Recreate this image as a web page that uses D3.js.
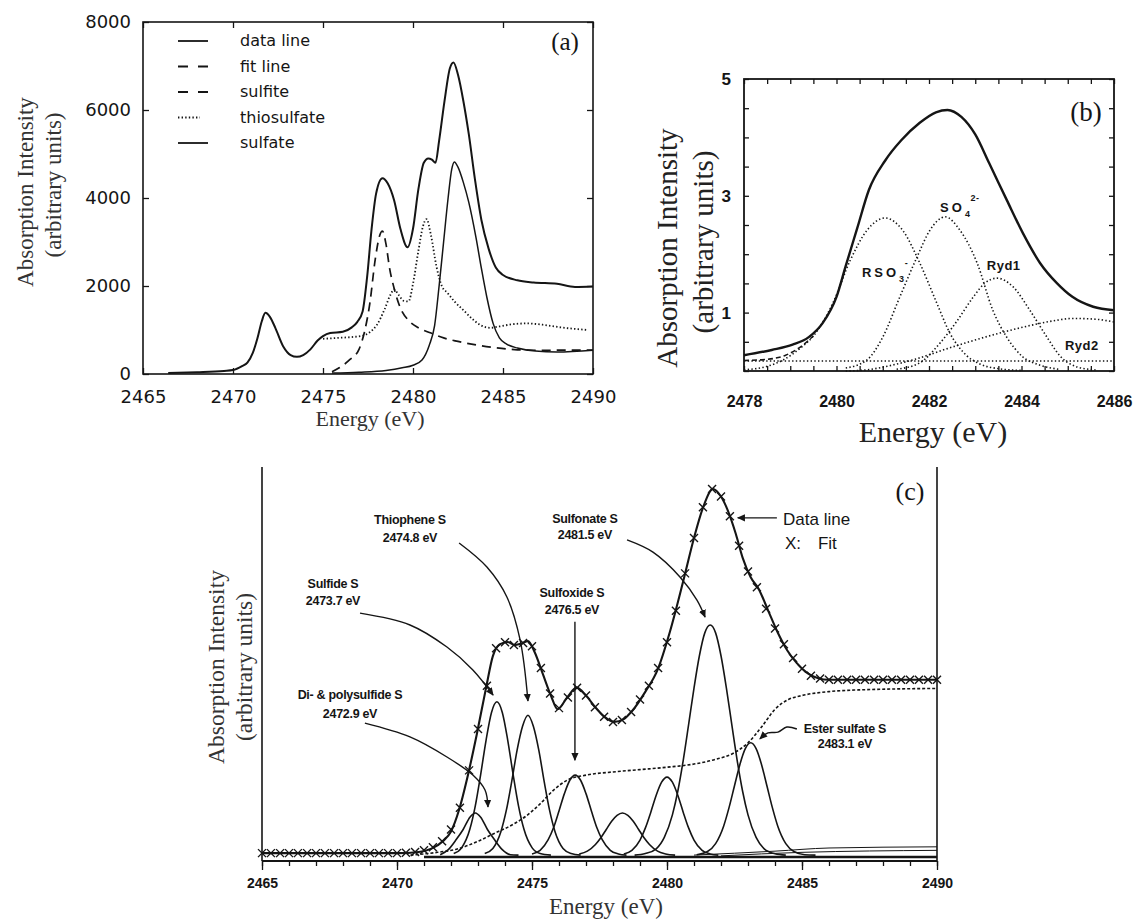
<!DOCTYPE html>
<html>
<head>
<meta charset="utf-8">
<script src="https://cdn.jsdelivr.net/npm/d3@7"></script>
<style>
  body { margin: 0; background: #fff; }
</style>
</head>
<body>
<div id="wrapper"></div>
<script>
// ---------- panel (a) data : energy (eV), intensity ----------
const aXTicks = [2465, 2470, 2475, 2480, 2485, 2490];
const aYTicks = [0, 2000, 4000, 6000, 8000];
const aLegend = ["data line", "fit line", "sulfite", "thiosulfate", "sulfate"];

const aDataLine = [[2466.4,20],[2468,40],[2469.5,70],[2470,90],[2470.5,180],[2470.8,260],[2471.1,480],[2471.35,800],[2471.6,1200],[2471.8,1390],[2472.05,1300],[2472.35,1050],[2472.8,620],[2473.2,430],[2473.55,390],[2473.9,430],[2474.3,560],[2474.7,760],[2475.0,860],[2475.4,930],[2476.1,960],[2476.6,1060],[2476.9,1180],[2477.2,1420],[2477.45,2200],[2477.7,3300],[2477.95,4100],[2478.3,4450],[2478.6,4330],[2478.95,3950],[2479.3,3300],[2479.7,2880],[2480.0,3300],[2480.3,4200],[2480.6,4800],[2480.85,4900],[2481.05,4870],[2481.25,4800],[2481.45,5300],[2481.75,6200],[2482.05,6950],[2482.25,7080],[2482.5,6800],[2482.8,6200],[2483.1,5450],[2483.45,4400],[2483.8,3500],[2484.2,2850],[2484.6,2420],[2485.0,2250],[2485.8,2130],[2486.7,2080],[2488,2050],[2489,1980],[2490,1990]];
const aSulfite = [[2475.5,50],[2475.9,140],[2476.5,330],[2477.0,560],[2477.3,950],[2477.6,1600],[2477.9,2600],[2478.15,3150],[2478.3,3250],[2478.5,2950],[2478.7,2400],[2478.95,1950],[2479.3,1500],[2479.8,1200],[2480.3,1050],[2481.0,930],[2481.7,820],[2482.5,740],[2483.5,660],[2484.5,600],[2485.8,550],[2487,540],[2490,545]];
const aThiosulfate = [[2475.0,800],[2475.8,820],[2476.6,840],[2477.2,870],[2477.6,950],[2478.0,1120],[2478.4,1450],[2478.75,1800],[2478.95,1920],[2479.2,1800],[2479.5,1660],[2479.75,1650],[2480.0,2050],[2480.3,2800],[2480.55,3350],[2480.75,3520],[2481.0,3150],[2481.3,2450],[2481.6,2000],[2481.9,1850],[2482.3,1650],[2482.8,1450],[2483.3,1250],[2483.8,1100],[2484.3,1050],[2484.8,1080],[2485.5,1130],[2486.3,1150],[2487.2,1120],[2488.2,1060],[2489.7,1000]];
const aSulfate = [[2475.5,20],[2477,40],[2478.5,80],[2479.4,140],[2480.0,200],[2480.5,320],[2480.9,650],[2481.2,1100],[2481.45,2000],[2481.7,3000],[2481.95,4000],[2482.15,4650],[2482.3,4820],[2482.5,4700],[2482.8,4350],[2483.1,3900],[2483.5,3100],[2483.8,2400],[2484.1,1750],[2484.45,1150],[2484.8,820],[2485.2,680],[2485.8,590],[2486.8,520],[2488,500],[2490,540]];

// ---------- panel (b) data ----------
const bXLabels = [2478, 2480, 2482, 2484, 2486];
const bYLabels = [1, 3, 5];
const bTotal = [[2478,0.27],[2478.6,0.36],[2479.05,0.45],[2479.4,0.58],[2479.7,0.82],[2480,1.27],[2480.2,1.8],[2480.45,2.45],[2480.7,3.1],[2481.05,3.6],[2481.4,3.95],[2481.8,4.25],[2482.15,4.43],[2482.4,4.47],[2482.7,4.35],[2483.0,4.05],[2483.3,3.56],[2483.68,2.93],[2484.03,2.36],[2484.4,1.85],[2484.77,1.5],[2485.1,1.27],[2485.55,1.1],[2486,1.04]];
const bRSO3 = [[2478,0.02],[2478.5,0.08],[2478.85,0.19],[2479.2,0.38],[2479.5,0.6],[2479.92,1.16],[2480.3,1.9],[2480.66,2.41],[2481.05,2.62],[2481.43,2.41],[2481.8,1.85],[2482.17,1.16],[2482.45,0.65],[2482.82,0.26],[2483.1,0.12],[2483.5,0.04],[2484,0.01]];
const bSO4 = [[2480.2,0.05],[2480.66,0.19],[2481.0,0.58],[2481.37,1.27],[2481.74,1.95],[2482.02,2.41],[2482.35,2.64],[2482.67,2.41],[2483.04,1.85],[2483.38,1.04],[2483.68,0.58],[2484.03,0.24],[2484.4,0.1],[2484.8,0.03]];
const bRyd1 = [[2481.3,0.03],[2481.8,0.14],[2482.24,0.48],[2482.6,0.85],[2482.96,1.27],[2483.2,1.5],[2483.47,1.59],[2483.82,1.44],[2484.18,1.04],[2484.55,0.58],[2484.83,0.26],[2485.2,0.07],[2485.6,0.02]];
const bRyd2 = [[2480.2,0.0],[2480.66,0.02],[2481.2,0.1],[2481.65,0.19],[2482.5,0.41],[2483.53,0.65],[2484.25,0.79],[2484.77,0.87],[2485.1,0.9],[2485.55,0.89],[2486,0.84]];
const bBaseline = [[2478,0.17],[2486,0.17]];
const bFitEdge = [[2478,0.18],[2478.5,0.2],[2478.9,0.27],[2479.2,0.4],[2479.5,0.6]];
const bLabels = [
  {parts: [["RSO", 0], ["3", 1], ["-", -1]], e: 2480.55, v: 1.61},
  {parts: [["SO", 0], ["4", 1], ["2-", -1]], e: 2482.24, v: 2.72},
  {parts: [["Ryd1", 0]], e: 2483.25, v: 1.73},
  {parts: [["Ryd2", 0]], e: 2484.94, v: 0.36},
];

// ---------- panel (c) data ----------
const cXTicks = [2465, 2470, 2475, 2480, 2485, 2490];
const cDataLine = [[2465,2],[2470,2],[2470.8,2.3],[2471.3,3.2],[2471.7,5],[2472.0,7.5],[2472.3,13],[2472.6,21],[2472.95,32],[2473.3,44],[2473.55,52],[2473.8,55],[2474.1,55.6],[2474.35,54.8],[2474.6,55.2],[2474.85,55.8],[2475.1,53],[2475.4,47.5],[2475.7,42],[2475.95,38.5],[2476.3,41.5],[2476.65,44],[2477.0,42],[2477.35,39],[2477.7,36.5],[2478.05,35.3],[2478.4,36],[2478.7,38],[2479.2,43],[2479.65,48.5],[2480.1,58],[2480.6,71],[2481.0,82],[2481.35,90],[2481.7,94.4],[2482.0,92.5],[2482.25,89],[2482.55,83],[2482.8,77],[2483.1,72],[2483.4,69],[2483.75,63.5],[2484.1,58],[2484.45,53.5],[2484.8,50.3],[2485.2,47.7],[2485.6,46.4],[2486.0,46],[2490,46]];
const cFit = [[2465.00,2],[2465.33,2],[2465.67,2],[2466.00,2],[2466.33,2],[2466.67,2],[2467.00,2],[2467.33,2],[2467.67,2],[2468.00,2],[2468.33,2],[2468.67,2],[2469.00,2],[2469.33,2],[2469.67,2],[2470.00,2],[2470.33,2.1],[2470.67,2.3],[2471.00,2.7],[2471.33,3.5],[2471.67,5],[2472.00,8],[2472.33,13.5],[2472.67,23],[2473.00,33.5],[2473.33,44.5],[2473.67,54],[2474.00,55.5],[2474.33,54.8],[2474.67,55.3],[2475.00,54.5],[2475.33,49],[2475.67,42.5],[2476.00,38.8],[2476.33,41.5],[2476.67,44],[2477.00,42],[2477.33,39],[2477.67,36.6],[2478.00,35.3],[2478.33,35.8],[2478.67,37.8],[2479.00,41],[2479.33,44.5],[2479.67,49],[2480.00,55.5],[2480.33,63.5],[2480.67,73],[2481.00,82],[2481.33,89.8],[2481.67,94.4],[2482.00,92.5],[2482.33,87.5],[2482.67,80],[2483.00,73.5],[2483.33,69.5],[2483.67,64],[2484.00,59],[2484.33,55],[2484.67,51.5],[2485.00,48.8],[2485.33,47],[2485.67,46.3],[2486.00,46],[2486.33,46],[2486.67,46],[2487.00,46],[2487.33,46],[2487.67,46],[2488.00,46],[2488.33,46],[2488.67,46],[2489.00,46],[2489.33,46],[2489.67,46],[2490.00,46]];
const cDiPoly = [[2471.6,1.6],[2471.9,2.9],[2472.2,5.5],[2472.45,8],[2472.7,11.1],[2472.9,12.2],[2473.1,11.1],[2473.35,8],[2473.6,5.5],[2473.9,2.9],[2474.2,1.6],[2474.5,1.5]];
const cSulfide = [[2472.1,1.9],[2472.4,3.4],[2472.7,8.1],[2472.9,14],[2473.1,22],[2473.3,30.7],[2473.5,37.7],[2473.7,40.4],[2473.9,37.7],[2474.1,30.7],[2474.3,22],[2474.5,14],[2474.7,8.1],[2475.0,3.4],[2475.3,1.9],[2475.7,1.5]];
const cThiophene = [[2473.25,1.9],[2473.55,3.2],[2473.85,7.5],[2474.05,12.9],[2474.25,20.2],[2474.45,28.2],[2474.65,34.2],[2474.85,37],[2475.05,34.2],[2475.25,28.2],[2475.45,20.2],[2475.65,12.9],[2475.85,7.5],[2476.15,3.2],[2476.45,1.9],[2476.8,1.5]];
const cSulfoxide = [[2475.0,1.8],[2475.3,2.7],[2475.6,5.4],[2475.8,8.5],[2476.0,12.7],[2476.2,17.1],[2476.4,20.5],[2476.6,21.8],[2476.8,20.5],[2477.0,17.1],[2477.2,12.7],[2477.4,8.5],[2477.6,5.4],[2477.9,2.7],[2478.2,1.8],[2478.5,1.5]];
const cPeak2478 = [[2476.75,1.8],[2477.05,2.5],[2477.35,4.2],[2477.55,5.9],[2477.75,8],[2477.95,10.1],[2478.15,11.6],[2478.35,12.2],[2478.55,11.6],[2478.75,10.1],[2478.95,8],[2479.15,5.9],[2479.35,4.2],[2479.65,2.5],[2479.95,1.8],[2480.3,1.5]];
const cPeak2480 = [[2478.4,1.8],[2478.7,2.7],[2479.0,5.3],[2479.2,8.4],[2479.4,12.4],[2479.6,16.7],[2479.8,20],[2480.0,21.3],[2480.2,20],[2480.4,16.7],[2480.6,12.4],[2480.8,8.4],[2481.0,5.3],[2481.3,2.7],[2481.6,1.8],[2481.9,1.5]];
const cSulfonate = [[2478.8,1.5],[2479.2,1.9],[2479.6,3.1],[2479.9,6],[2480.2,11.7],[2480.4,17.7],[2480.6,25.5],[2480.8,34.6],[2481.0,43.9],[2481.2,52.1],[2481.4,57.9],[2481.6,59.9],[2481.8,57.9],[2482.0,52.1],[2482.2,43.9],[2482.4,34.6],[2482.6,25.5],[2482.8,17.7],[2483.0,11.7],[2483.3,6],[2483.6,3.1],[2484.0,1.85],[2484.4,1.5]];
const cEster = [[2481.1,1.6],[2481.5,2.4],[2481.8,4.4],[2482.1,8.9],[2482.3,13.6],[2482.5,19.1],[2482.7,24.5],[2482.9,28.5],[2483.1,30],[2483.3,28.5],[2483.5,24.5],[2483.7,19.1],[2483.9,13.6],[2484.1,8.9],[2484.4,4.4],[2484.7,2.4],[2485.1,1.6],[2485.5,1.5]];
const cStep = [[2470.5,1.5],[2471.5,2.2],[2472.2,3],[2473,5],[2473.6,7],[2474.3,9.3],[2474.8,11.5],[2475.3,14.5],[2475.8,18],[2476.3,20.5],[2477,21.8],[2478,22.6],[2479,23.2],[2480,23.8],[2481,24.6],[2481.8,25.8],[2482.5,27.5],[2483,30],[2483.5,34],[2484,38.5],[2484.5,41],[2485,42],[2486,43],[2487,43.4],[2490,43.8]];
const cBottom = [[2471,1],[2490,1]];
const cTail1 = [[2481,1.5],[2484,2.5],[2486,3.3],[2490,3.6]];
const cTail2 = [[2482,1.3],[2485,2.2],[2490,2.7]];
const cComponents = [cDiPoly, cSulfide, cThiophene, cSulfoxide, cPeak2478, cPeak2480, cSulfonate, cEster];

// annotations of (c): text lines at (e, v) baselines, arrow through points in data units
const cNotes = [
  {lines: ["Thiophene S", "2474.8 eV"], e: 2470.48, v: [85.5, 81], arrow: [[2472.30,80.7],[2473.33,74.6],[2474.07,67.0],[2474.56,56.1],[2474.85,40.6]]},
  {lines: ["Sulfide S", "2473.7 eV"], e: 2467.63, v: [69.4, 65.1], arrow: [[2468.63,62.9],[2470.48,59.9],[2471.85,54.3],[2472.81,48.5],[2473.56,42.1]]},
  {lines: ["Di- & polysulfide S", "2472.9 eV"], e: 2468.26, v: [41.0, 36.4], arrow: [[2468.81,35.0],[2470.48,31.5],[2471.85,26.4],[2472.81,21.8],[2473.26,18.0],[2473.37,13.7]]},
  {lines: ["Sulfoxide S", "2476.5 eV"], e: 2476.48, v: [66.9, 62.6], arrow: [[2476.59,60.7],[2476.59,25.6]]},
  {lines: ["Sulfonate S", "2481.5 eV"], e: 2476.96, v: [85.9, 81.6], arrow: [[2478.52,81.5],[2479.48,78.4],[2480.48,72.1],[2481.11,66.2],[2481.41,61.9]]},
  {lines: ["Ester sulfate S", "2483.1 eV"], e: 2486.59, v: [32.6, 28.8], arrow: [[2484.81,33.5],[2484.44,34.0],[2484.11,32.7],[2483.74,32.5],[2483.44,31.0]]},
];
const cDataArrow = [[2484.07,87.1],[2482.62,87.1]];

// ---------- drawing ----------
const ink = "#151515";
const serif = "'Liberation Serif', 'Times New Roman', serif";
const sans = "'Liberation Sans', Arial, sans-serif";
const round = "'DejaVu Sans', Verdana, sans-serif";
const plain = d => String(d);

const svg = d3.select("#wrapper").append("svg")
  .attr("width", 1134)
  .attr("height", 919)
  .style("background", "#fff");

const defs = svg.append("defs");
defs.append("marker")
  .attr("id", "head")
  .attr("viewBox", "0 -5 10 10")
  .attr("refX", 9).attr("refY", 0)
  .attr("markerWidth", 8).attr("markerHeight", 8)
  .attr("markerUnits", "userSpaceOnUse")
  .attr("orient", "auto")
  .append("path").attr("d", "M0,-4.5L10,0L0,4.5Z").attr("fill", ink);

function curve(g, x, y, data, width, dash, kind) {
  const gen = d3.line()
    .x(d => x(d[0]))
    .y(d => y(d[1]))
    .curve(kind || d3.curveMonotoneX);
  return g.append("path").datum(data)
    .attr("d", gen)
    .attr("fill", "none")
    .attr("stroke", ink)
    .attr("stroke-width", width)
    .attr("stroke-dasharray", dash || null)
    .attr("stroke-linejoin", "round");
}

function styleAxis(sel, font, size, weight) {
  sel.select(".domain").remove();
  sel.selectAll(".tick line").attr("stroke", ink).attr("stroke-width", 1.3);
  sel.selectAll(".tick text")
    .attr("fill", ink)
    .style("font-family", font)
    .style("font-size", size + "px")
    .style("font-weight", weight || "normal");
}

// ===== panel (a) =====
const xA = d3.scaleLinear().domain([2465, 2490]).range([143, 593]);
const yA = d3.scaleLinear().domain([0, 8000]).range([374, 22]);
const gA = svg.append("g");

gA.append("rect")
  .attr("x", xA(2465)).attr("y", yA(8000))
  .attr("width", xA(2490) - xA(2465)).attr("height", yA(0) - yA(8000))
  .attr("fill", "none").attr("stroke", ink).attr("stroke-width", 1.6);

gA.append("g").attr("transform", `translate(0,${yA(0)})`)
  .call(d3.axisBottom(xA).tickValues(aXTicks).tickSize(-6).tickPadding(16).tickFormat(plain))
  .call(s => styleAxis(s, round, 18));
gA.append("g").attr("transform", `translate(0,${yA(8000)})`)
  .call(d3.axisTop(xA).tickValues(aXTicks).tickSize(-6).tickFormat(""))
  .call(s => styleAxis(s, round, 18));
gA.append("g").attr("transform", `translate(${xA(2465)},0)`)
  .call(d3.axisLeft(yA).tickValues(aYTicks).tickSize(-6).tickPadding(12).tickFormat(plain))
  .call(s => styleAxis(s, round, 18));
gA.append("g").attr("transform", `translate(${xA(2490)},0)`)
  .call(d3.axisRight(yA).tickValues(aYTicks).tickSize(-6).tickFormat(""))
  .call(s => styleAxis(s, round, 18));

curve(gA, xA, yA, aSulfate, 1.5);
curve(gA, xA, yA, aSulfite, 1.7, "9,6");
curve(gA, xA, yA, aThiosulfate, 1.8, "1.4,2.2");
curve(gA, xA, yA, aDataLine, 2);

// legend (a)
const aDash = [null, "10,10", "10,10", "1.4,2.2", null];
aLegend.forEach((name, i) => {
  const cy = 41 + i * 25.5;
  gA.append("line")
    .attr("x1", 178).attr("x2", aDash[i] === "1.4,2.2" ? 200 : 208)
    .attr("y1", cy).attr("y2", cy)
    .attr("stroke", ink).attr("stroke-width", 1.8)
    .attr("stroke-dasharray", aDash[i]);
  gA.append("text")
    .attr("x", 240).attr("y", cy + 5)
    .attr("fill", ink)
    .style("font-family", round).style("font-size", "16px")
    .text(name);
});

gA.append("text").attr("x", 565).attr("y", 50).attr("text-anchor", "middle")
  .style("font-family", serif).style("font-size", "25px").attr("fill", ink).text("(a)");
gA.append("text").attr("x", 370).attr("y", 426).attr("text-anchor", "middle")
  .style("font-family", serif).style("font-size", "22px").attr("fill", "#333").text("Energy (eV)");
gA.append("text").attr("transform", "translate(25,192) rotate(-90)")
  .attr("text-anchor", "middle").attr("dominant-baseline", "central")
  .style("font-family", serif).style("font-size", "23px").attr("fill", "#333")
  .text("Absorption Intensity");
gA.append("text").attr("transform", "translate(53,185) rotate(-90)")
  .attr("text-anchor", "middle").attr("dominant-baseline", "central")
  .style("font-family", serif).style("font-size", "23px").attr("fill", "#333")
  .text("(arbitrary units)");

// ===== panel (b) =====
const xB = d3.scaleLinear().domain([2478, 2486]).range([744, 1114]);
const yB = d3.scaleLinear().domain([0, 5]).range([371, 79]);
const gB = svg.append("g");
const bXMinor = d3.range(2478, 2486.01, 0.5);
const bYMinor = d3.range(0, 5.01, 0.5);

gB.append("rect")
  .attr("x", xB(2478)).attr("y", yB(5))
  .attr("width", xB(2486) - xB(2478)).attr("height", yB(0) - yB(5))
  .attr("fill", "none").attr("stroke", ink).attr("stroke-width", 1.8);

gB.append("g").attr("transform", `translate(0,${yB(0)})`)
  .call(d3.axisBottom(xB).tickValues(bXMinor).tickSize(-5).tickPadding(25)
    .tickFormat(d => bXLabels.includes(d) ? String(d) : ""))
  .call(s => styleAxis(s, sans, 16, "bold"));
gB.append("g").attr("transform", `translate(0,${yB(5)})`)
  .call(d3.axisTop(xB).tickValues(bXMinor).tickSize(-5).tickFormat(""))
  .call(s => styleAxis(s, sans, 16));
gB.append("g").attr("transform", `translate(${xB(2478)},0)`)
  .call(d3.axisLeft(yB).tickValues(bYMinor).tickSize(-5).tickPadding(13)
    .tickFormat(d => bYLabels.includes(d) ? String(d) : ""))
  .call(s => styleAxis(s, sans, 17, "bold"));
gB.append("g").attr("transform", `translate(${xB(2486)},0)`)
  .call(d3.axisRight(yB).tickValues(bYMinor).tickSize(-5).tickFormat(""))
  .call(s => styleAxis(s, sans, 16));

const dots = "1.4,2.3";
curve(gB, xB, yB, bBaseline, 1.4, dots);
curve(gB, xB, yB, bFitEdge, 1.6, "5,3");
[bRSO3, bSO4, bRyd1, bRyd2].forEach(d => curve(gB, xB, yB, d, 1.6, dots));
curve(gB, xB, yB, bTotal, 2.4);

bLabels.forEach(l => {
  const t = gB.append("text")
    .attr("x", xB(l.e)).attr("y", yB(l.v))
    .attr("fill", ink)
    .style("font-family", sans).style("font-size", "13px").style("font-weight", "bold");
  let shift = 0;
  l.parts.forEach(([s, pos]) => {
    const dy = pos === 1 ? 5 - shift : pos === -1 ? -11 - shift : -shift;
    shift += dy;
    t.append("tspan")
      .attr("dy", dy)
      .style("font-size", pos === 0 ? "13px" : "9px")
      .style("letter-spacing", pos === 0 && (s === "RSO" || s === "SO") ? "3px" : "0.5px")
      .text(s);
  });
});

gB.append("text").attr("x", 1086).attr("y", 121).attr("text-anchor", "middle")
  .style("font-family", serif).style("font-size", "27px").attr("fill", ink).text("(b)");
gB.append("text").attr("x", 933).attr("y", 442).attr("text-anchor", "middle")
  .style("font-family", serif).style("font-size", "30px").attr("fill", "#222").text("Energy (eV)");
gB.append("text").attr("transform", "translate(667,248) rotate(-90)")
  .attr("text-anchor", "middle").attr("dominant-baseline", "central")
  .style("font-family", serif).style("font-size", "29px").attr("fill", "#222")
  .text("Absorption Intensity");
gB.append("text").attr("transform", "translate(703,242) rotate(-90)")
  .attr("text-anchor", "middle").attr("dominant-baseline", "central")
  .style("font-family", serif).style("font-size", "29px").attr("fill", "#222")
  .text("(arbitrary units)");

// ===== panel (c) =====
const xC = d3.scaleLinear().domain([2465, 2490]).range([262, 937]);
const yC = d3.scaleLinear().domain([0, 100]).range([861, 467]);
const gC = svg.append("g");
const cXMinor = d3.range(2465, 2490.01, 1);

gC.append("line").attr("x1", xC(2465)).attr("x2", xC(2465)).attr("y1", yC(100)).attr("y2", yC(0))
  .attr("stroke", ink).attr("stroke-width", 1.6);
gC.append("line").attr("x1", xC(2490)).attr("x2", xC(2490)).attr("y1", yC(100)).attr("y2", yC(0))
  .attr("stroke", ink).attr("stroke-width", 1.6);
gC.append("line").attr("x1", xC(2465)).attr("x2", xC(2490)).attr("y1", yC(0)).attr("y2", yC(0))
  .attr("stroke", ink).attr("stroke-width", 1.8);

gC.append("g").attr("transform", `translate(0,${yC(0)})`)
  .call(d3.axisBottom(xC).tickValues(cXMinor).tickSize(5).tickFormat(""))
  .call(s => styleAxis(s, sans, 14));
gC.append("g").attr("transform", `translate(0,${yC(0)})`)
  .call(d3.axisBottom(xC).tickValues(cXTicks).tickSize(9).tickPadding(8).tickFormat(plain))
  .call(s => styleAxis(s, sans, 14, "bold"));

curve(gC, xC, yC, cBottom, 2.6);
curve(gC, xC, yC, cTail1, 1);
curve(gC, xC, yC, cTail2, 1);
curve(gC, xC, yC, cStep, 1.6, "3,2");
cComponents.forEach(d => curve(gC, xC, yC, d, 1.6));
curve(gC, xC, yC, cDataLine, 2.1);

gC.append("g").selectAll("path").data(cFit).join("path")
  .attr("transform", d => `translate(${xC(d[0])},${yC(d[1])})`)
  .attr("d", "M-4,-4L4,4M-4,4L4,-4")
  .attr("stroke", ink).attr("stroke-width", 1.4).attr("fill", "none");

cNotes.forEach(n => {
  n.lines.forEach((s, i) => {
    gC.append("text")
      .attr("x", xC(n.e)).attr("y", yC(n.v[i]))
      .attr("text-anchor", "middle")
      .attr("fill", ink)
      .style("font-family", sans).style("font-size", "12.5px").style("font-weight", "bold")
      .style("letter-spacing", "-0.3px")
      .text(s);
  });
  curve(gC, xC, yC, n.arrow, 1.4, null, d3.curveCatmullRom.alpha(0.5))
    .attr("marker-end", "url(#head)");
});

curve(gC, xC, yC, cDataArrow, 1.4, null, d3.curveLinear).attr("marker-end", "url(#head)");
gC.append("text").attr("x", xC(2484.3)).attr("y", yC(85.3))
  .attr("fill", ink).style("font-family", sans).style("font-size", "17px").text("Data line");
gC.append("text").attr("x", xC(2484.37)).attr("y", yC(79.2))
  .attr("fill", ink).style("font-family", sans).style("font-size", "17px").text("X:");
gC.append("text").attr("x", xC(2485.59)).attr("y", yC(79.2))
  .attr("fill", ink).style("font-family", sans).style("font-size", "17px").text("Fit");

gC.append("text").attr("x", 910).attr("y", 500).attr("text-anchor", "middle")
  .style("font-family", serif).style("font-size", "26px").attr("fill", ink).text("(c)");
gC.append("text").attr("x", 606).attr("y", 914).attr("text-anchor", "middle")
  .style("font-family", serif).style("font-size", "23px").attr("fill", "#333").text("Energy (eV)");
gC.append("text").attr("transform", "translate(216,667) rotate(-90)")
  .attr("text-anchor", "middle").attr("dominant-baseline", "central")
  .style("font-family", serif).style("font-size", "23.5px").attr("fill", "#333")
  .text("Absorption Intensity");
gC.append("text").attr("transform", "translate(244,667) rotate(-90)")
  .attr("text-anchor", "middle").attr("dominant-baseline", "central")
  .style("font-family", serif).style("font-size", "23.5px").attr("fill", "#333")
  .text("(arbitrary units)");
</script>
</body>
</html>
